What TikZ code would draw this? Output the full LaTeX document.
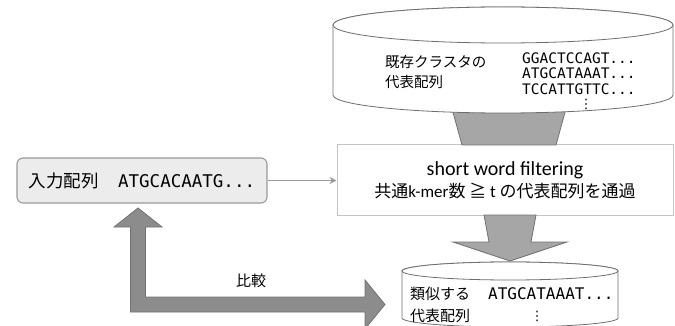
\documentclass[tikz,border=0pt]{standalone}
\usepackage{fontspec}
\setmainfont{Noto Sans CJK JP}
\newfontfamily\seqfont{DejaVu Sans Mono}
\newfontfamily\latinfont{Carlito}
\newfontfamily\dotfont{DejaVu Sans}
\usepackage{xcolor}
\usetikzlibrary{arrows.meta}

\definecolor{dbline}{HTML}{6E6E6E}
\definecolor{boxline}{HTML}{C4C4C4}
\definecolor{inputfill}{HTML}{ECECEC}
\definecolor{inputline}{HTML}{9A9A9A}
\definecolor{lightblock}{HTML}{A6A6A6}
\definecolor{darkblock}{HTML}{8C8C8C}
\definecolor{blockedge}{HTML}{727272}

\begin{document}
\begin{tikzpicture}[
    x=1pt, y=1pt,
    inputbox/.style={
        draw=inputline,
        line width=1.1pt,
        rounded corners=6pt,
        fill=inputfill,
        minimum width=250pt,
        minimum height=45pt,
        font=\fontsize{17.5}{20}\selectfont
    },
    filterbox/.style={
        draw=boxline,
        line width=1pt,
        fill=white,
        minimum width=336pt,
        minimum height=70pt,
        align=center,
        font=\fontsize{17}{22}\selectfont
    },
    db/.style={draw=dbline, line width=0.8pt, fill=white},
    dbtext/.style={inner sep=0pt, align=left, anchor=west},
    feed/.style={draw=inputline, line width=1.3pt, -{Stealth[length=7pt,width=7pt]}},
    funnel/.style={fill=lightblock, draw=blockedge, line width=0.8pt},
    bigarrow/.style={fill=darkblock, draw=blockedge, line width=0.8pt}
]
    \useasboundingbox (0,0) rectangle (675,-326);
    \clip (0,0) rectangle (675,-326);

    \node[filterbox] (filter) at (505,-180)
        {{\latinfont\fontsize{20}{22}\selectfont short word filtering}\\
         共通{\latinfont k-mer}数 ≧ {\latinfont t} の代表配列を通過};
    \node[inputbox] (input) at (142,-180.5)
        {入力配列\hspace{1.1em}{\seqfont ATGCACAATG...}};

    % existing clusters
    \path[funnel] (451,-105) -- (462,-145) -- (556,-145) -- (567,-105) -- cycle;
    \coordinate (pool) at (503,-25);
    \filldraw[db] (333,-25) -- (333,-95)
        arc[start angle=180, end angle=360, x radius=170, y radius=18]
        -- (673,-25)
        arc[start angle=0, end angle=180, x radius=170, y radius=18] -- cycle;
    \draw[db] (pool) ellipse[x radius=170, y radius=18];
    \node[dbtext, font=\fontsize{14.5}{20}\selectfont] (pooltitle) at (385,-72)
        {既存クラスタの\\代表配列};
    \node[dbtext, font=\seqfont\fontsize{14.5}{15.5}\selectfont] (poolseqs) at (522,-73.5)
        {GGACTCCAGT...\\ATGCATAAAT...\\TCCATTGTTC...};
    \node[inner sep=0pt, font=\dotfont\fontsize{13}{13}\selectfont] (poolmore) at (586,-104) {⋮};

    \draw[feed] (input.east) -- (input.east -| filter.west);

    % filtered hits
    \path[funnel] (484,-215) -- (489,-242) -- (453,-242) -- (510,-261)
        -- (567,-242) -- (531,-242) -- (536,-215) -- cycle;
    \coordinate (hits) at (510,-271);
    \filldraw[db] (402,-271) -- (402,-318)
        arc[start angle=180, end angle=360, x radius=108, y radius=9]
        -- (618,-271)
        arc[start angle=0, end angle=180, x radius=108, y radius=9] -- cycle;
    \draw[db] (hits) ellipse[x radius=108, y radius=9];
    \node[dbtext, font=\fontsize{15}{22}\selectfont] (hitstitle) at (410,-305)
        {類似する\\代表配列};
    \node[dbtext, font=\seqfont\fontsize{16}{16}\selectfont] (hitseq) at (488,-294)
        {ATGCATAAAT...};
    \node[inner sep=0pt, font=\dotfont\fontsize{13}{13}\selectfont] (hitmore) at (537,-316) {⋮};

    % comparison
    \coordinate (cmpup) at (138,-208);
    \coordinate (cmpright) at (385,-304.5);
    \path[bigarrow] (cmpup) -- ++(24,-19) -- ++(-16.5,0) -- ++(0,-70)
        -- ++(219.5,0) -- ++(0,17) -- (cmpright) -- ++(-20,-24.5)
        -- ++(0,17) -- ++(-234.5,0) -- ++(0,85) -- ++(-16.5,0) -- cycle;
    \node[font=\fontsize{15}{15}\selectfont] (cmplabel) at (251,-281) {比較};
\end{tikzpicture}
\end{document}
